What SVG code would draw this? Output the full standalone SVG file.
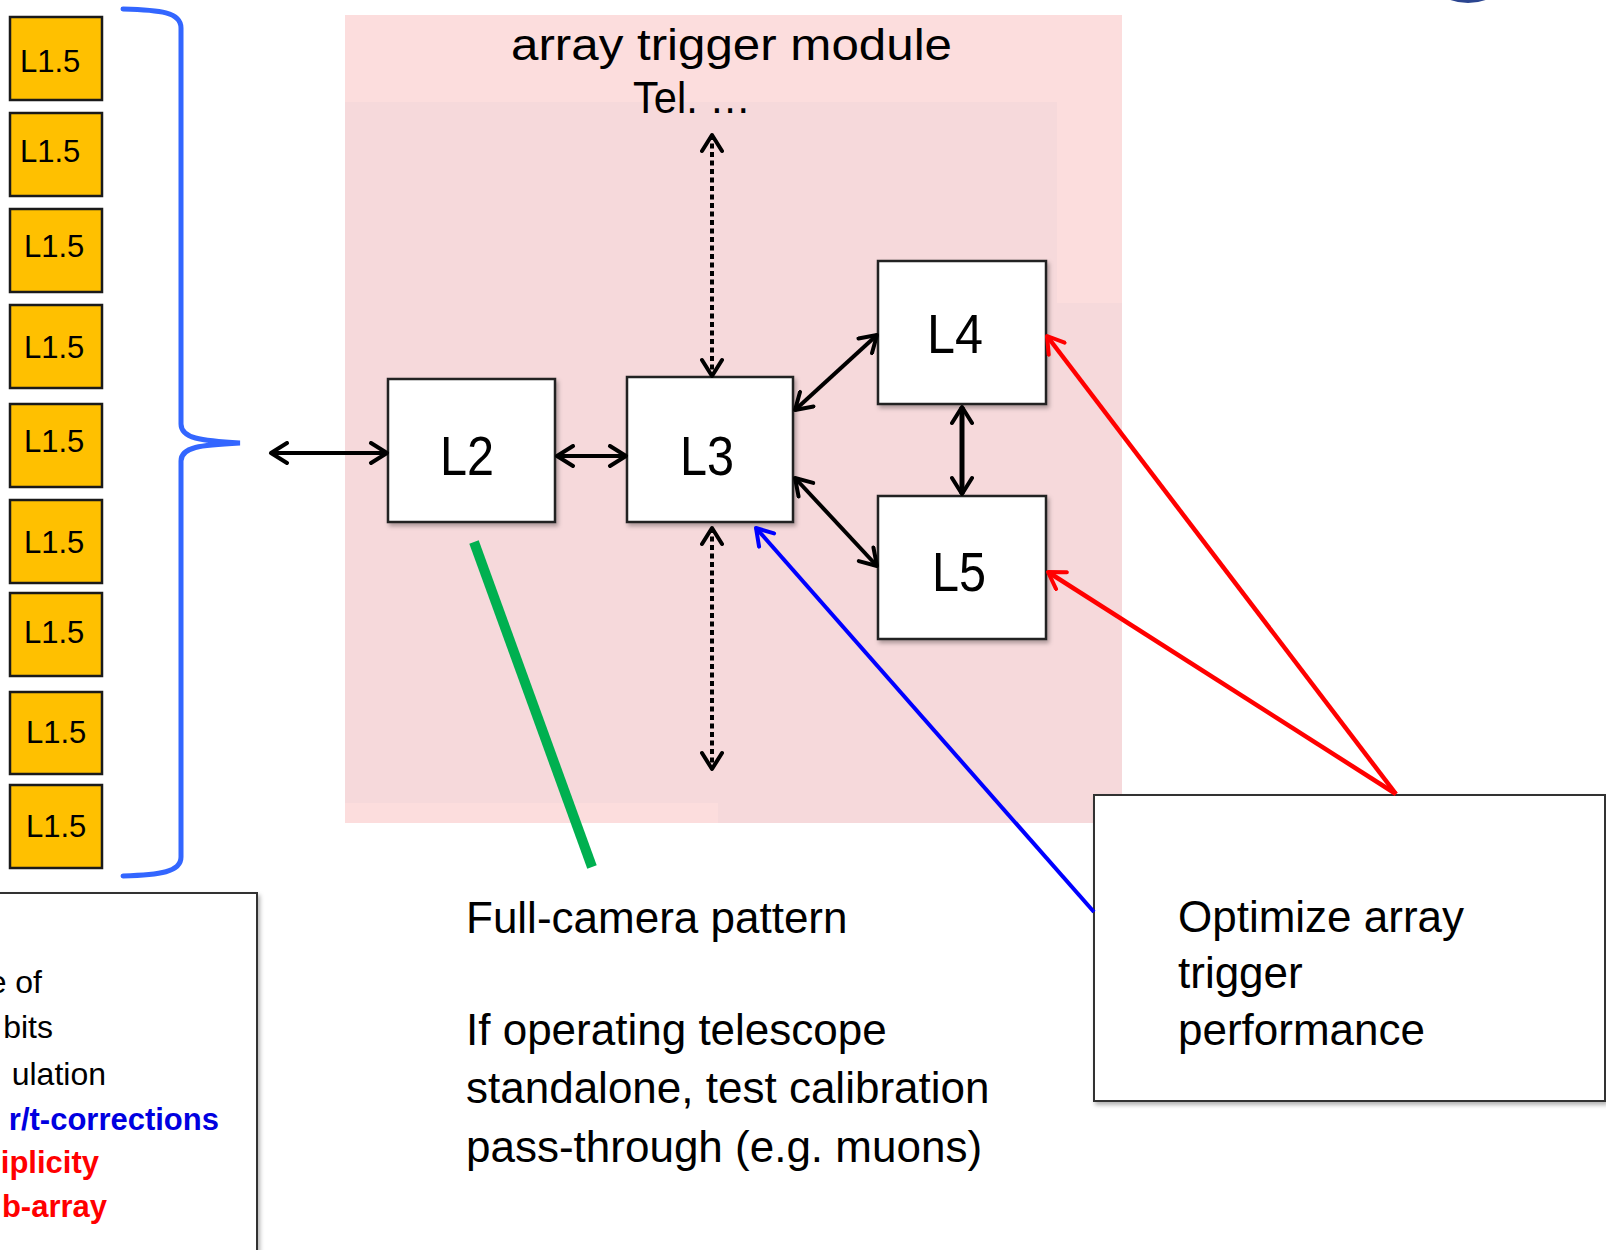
<svg xmlns="http://www.w3.org/2000/svg" width="1606" height="1250" viewBox="0 0 1606 1250">
<style>
.t{font-family:"Liberation Sans",Arial,sans-serif;fill:#000}
.l15{fill:#FFC000;stroke:#1a1a1a;stroke-width:2.5}
.wb{fill:#fff;stroke:#222;stroke-width:2.5;filter:url(#sh)}
.lbl15{font-size:31px}
.big{font-size:56px;text-anchor:middle}
.txt{font-size:44px}
.blk{stroke:#000;stroke-width:4;fill:none}
.dot{stroke:#000;stroke-width:4;fill:none;stroke-dasharray:5 3.5}
</style>
<defs>
<filter id="sh" x="-10%" y="-10%" width="130%" height="130%"><feDropShadow dx="2" dy="3" stdDeviation="2" flood-color="#000" flood-opacity="0.3"/></filter>
<marker id="ak" viewBox="0 0 24 24" markerWidth="24" markerHeight="24" refX="20" refY="12" orient="auto-start-reverse" markerUnits="userSpaceOnUse"><path d="M4,2 L20,12 L4,22" fill="none" stroke="#000" stroke-width="4" stroke-linecap="round" stroke-linejoin="round"/></marker>
<marker id="ar" viewBox="0 0 24 24" markerWidth="24" markerHeight="24" refX="20" refY="12" orient="auto-start-reverse" markerUnits="userSpaceOnUse"><path d="M4,2 L20,12 L4,22" fill="none" stroke="#FF0000" stroke-width="4" stroke-linecap="round" stroke-linejoin="round"/></marker>
<marker id="ab" viewBox="0 0 24 24" markerWidth="24" markerHeight="24" refX="20" refY="12" orient="auto-start-reverse" markerUnits="userSpaceOnUse"><path d="M4,2 L20,12 L4,22" fill="none" stroke="#0000FF" stroke-width="4" stroke-linecap="round" stroke-linejoin="round"/></marker>
</defs>
<rect width="1606" height="1250" fill="#fff"/>

<!-- background module area -->
<g id="module-area">
<rect x="345" y="15" width="777" height="808" fill="#FCDDDD"/>
<rect x="345" y="102" width="712" height="701" fill="#F6D9DB"/>
<rect x="718" y="303" width="404" height="520" fill="#F6D9DB"/>
<text class="t txt" x="511" y="60" textLength="441" lengthAdjust="spacingAndGlyphs">array trigger module</text>
<text class="t txt" x="633" y="113" textLength="118" lengthAdjust="spacingAndGlyphs">Tel. …</text>
</g>

<!-- partial shape top right -->
<ellipse cx="1468" cy="-42" rx="46" ry="43" fill="none" stroke="#2b4590" stroke-width="4"/>

<!-- L1.5 boxes -->
<g id="l15-1"><rect class="l15" x="10" y="17" width="92" height="83"/><text class="t lbl15" x="20" y="72">L1.5</text></g>
<g id="l15-2"><rect class="l15" x="10" y="113" width="92" height="83"/><text class="t lbl15" x="20" y="162">L1.5</text></g>
<g id="l15-3"><rect class="l15" x="10" y="209" width="92" height="83"/><text class="t lbl15" x="24" y="257">L1.5</text></g>
<g id="l15-4"><rect class="l15" x="10" y="305" width="92" height="83"/><text class="t lbl15" x="24" y="358">L1.5</text></g>
<g id="l15-5"><rect class="l15" x="10" y="404" width="92" height="83"/><text class="t lbl15" x="24" y="452">L1.5</text></g>
<g id="l15-6"><rect class="l15" x="10" y="500" width="92" height="83"/><text class="t lbl15" x="24" y="553">L1.5</text></g>
<g id="l15-7"><rect class="l15" x="10" y="593" width="92" height="83"/><text class="t lbl15" x="24" y="643">L1.5</text></g>
<g id="l15-8"><rect class="l15" x="10" y="692" width="92" height="82"/><text class="t lbl15" x="26" y="743">L1.5</text></g>
<g id="l15-9"><rect class="l15" x="10" y="785" width="92" height="83"/><text class="t lbl15" x="26" y="837">L1.5</text></g>

<!-- brace -->
<g id="brace">
<path d="M123,9 C160,10 181,12 181,28 L181,424 C181,438 200,441 240,443 C200,445 181,447 181,461 L181,857 C181,872 160,875 123,876" fill="none" stroke="#3366FF" stroke-width="5" stroke-linecap="round"/>
</g>

<!-- legend box (clipped) -->
<g id="legend">
<rect x="-3" y="893" width="260" height="400" fill="#fff" stroke="#333" stroke-width="2" filter="url(#sh)"/>
<g class="t" style="font-size:32px" text-anchor="end">
<text x="42" y="993">e of</text>
<text x="53" y="1038">bits</text>
<text x="106" y="1085">ulation</text>
<text x="219" y="1130" style="fill:#0000E0;font-weight:bold;font-size:31px">r/t-corrections</text>
<text x="99" y="1173" style="fill:#FF0000;font-weight:bold;font-size:31px">iplicity</text>
<text x="107" y="1217" style="fill:#FF0000;font-weight:bold;font-size:31px">b-array</text>
</g>
</g>

<!-- nodes -->
<g id="L2"><rect class="wb" x="388" y="379" width="167" height="143"/><text class="t big" x="467" y="475" textLength="54" lengthAdjust="spacingAndGlyphs">L2</text></g>
<g id="L3"><rect class="wb" x="627" y="377" width="166" height="145"/><text class="t big" x="707" y="475" textLength="54" lengthAdjust="spacingAndGlyphs">L3</text></g>
<g id="L4"><rect class="wb" x="878" y="261" width="168" height="143"/><text class="t big" x="955" y="353" textLength="56" lengthAdjust="spacingAndGlyphs">L4</text></g>
<g id="L5"><rect class="wb" x="878" y="496" width="168" height="143"/><text class="t big" x="959" y="591" textLength="54" lengthAdjust="spacingAndGlyphs">L5</text></g>

<g id="optimize">
<rect x="1094" y="795" width="511" height="306" fill="#fff" stroke="#333" stroke-width="2" filter="url(#sh)"/>
<text class="t txt" x="1178" y="932">Optimize array</text>
<text class="t txt" x="1178" y="988">trigger</text>
<text class="t txt" x="1178" y="1045">performance</text>
</g>

<g id="notes">
<text class="t txt" x="466" y="933">Full-camera pattern</text>
<text class="t txt" x="466" y="1045">If operating telescope</text>
<text class="t txt" x="466" y="1103">standalone, test calibration</text>
<text class="t txt" x="466" y="1162">pass-through (e.g. muons)</text>
</g>

<!-- connectors -->
<g id="connectors">
<line class="blk" x1="271" y1="453" x2="387" y2="453" marker-start="url(#ak)" marker-end="url(#ak)"/>
<line class="blk" x1="557" y1="456" x2="626" y2="456" marker-start="url(#ak)" marker-end="url(#ak)"/>
<line class="blk" x1="795" y1="410" x2="877" y2="335" marker-start="url(#ak)" marker-end="url(#ak)"/>
<line class="blk" x1="795" y1="478" x2="877" y2="566" marker-start="url(#ak)" marker-end="url(#ak)"/>
<line class="blk" x1="962" y1="407" x2="962" y2="494" style="stroke-width:5" marker-start="url(#ak)" marker-end="url(#ak)"/>
<line class="dot" x1="712" y1="135" x2="712" y2="376" marker-start="url(#ak)" marker-end="url(#ak)"/>
<line class="dot" x1="712" y1="528" x2="712" y2="769" marker-start="url(#ak)" marker-end="url(#ak)"/>
<line x1="474" y1="542" x2="592" y2="867" stroke="#00B050" stroke-width="10"/>
<line x1="1094" y1="912" x2="756" y2="528" stroke="#0000FF" stroke-width="4" marker-end="url(#ab)"/>
<line x1="1396" y1="794" x2="1047" y2="336" stroke="#FF0000" stroke-width="4.5" marker-end="url(#ar)"/>
<line x1="1396" y1="794" x2="1048" y2="572" stroke="#FF0000" stroke-width="4.5" marker-end="url(#ar)"/>
</g>
</svg>
